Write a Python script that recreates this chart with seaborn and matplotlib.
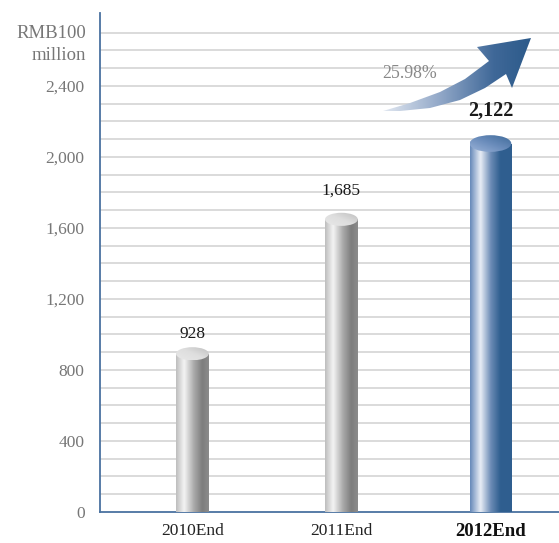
import numpy as np
import pandas as pd
import matplotlib
matplotlib.use("Agg")
import matplotlib.pyplot as plt
import seaborn as sns
from matplotlib.colors import LinearSegmentedColormap
from matplotlib.patches import Ellipse, Polygon

# ---- data ----
categories = ["2010End", "2011End", "2012End"]
values = [928, 1685, 2122]
value_labels = ["928", "1,685", "2,122"]
growth_label = "25.98%"
yticks = [0, 400, 800, 1200, 1600, 2000, 2400]
ytick_labels = ["0", "400", "800", "1,200", "1,600", "2,000", "2,400"]
unit_label = ["RMB100", "million"]

# ---- style ----
bar_widths = [0.22, 0.22, 0.28]
label_offsets_px = [5, 14, 15]
highlight = [False, False, True]
FONT = "Liberation Serif"

sns.set_theme(style="white")
plt.rcParams["font.family"] = [FONT, "DejaVu Serif"]

W, H = 559, 543
fig = plt.figure(figsize=(W / 100, H / 100), dpi=100)
ax = fig.add_axes([100 / W, (H - 512) / H, (W - 100) / W, (512 - 13) / H])

df = pd.DataFrame({"cat": categories, "val": values})
sns.barplot(data=df, x="cat", y="val", ax=ax, width=0.25, color="#aaaaaa",
            saturation=1, edgecolor="none")

XL = (-0.62, 2.46)
YL = (0, 2810)
ax.set_xlim(*XL)
ax.set_ylim(*YL)

px_per_unit = (512 - 13) / (YL[1] - YL[0])
px_per_cat = (W - 100) / (XL[1] - XL[0])

grey_body = LinearSegmentedColormap.from_list("gb", [
    (0.0, "#bdbdbd"), (0.25, "#f4f4f4"), (0.55, "#a9a9a9"), (0.8, "#7d7d7d"), (1.0, "#8c8c8c")])
blue_body = LinearSegmentedColormap.from_list("bb", [
    (0.0, "#6588b8"), (0.25, "#e9eef6"), (0.5, "#6b8bb5"), (0.72, "#305f90"), (1.0, "#2f5e8f")])
grey_top = LinearSegmentedColormap.from_list("gt", [
    (0.0, "#e8e8e8"), (0.5, "#dedede"), (1.0, "#bdbdbd")])
blue_top = LinearSegmentedColormap.from_list("bt", [
    (0.0, "#9bb3d8"), (0.5, "#6a8cbb"), (1.0, "#3e6a99")])

grad = np.linspace(0, 1, 256).reshape(1, -1)
gradv = np.linspace(0, 1, 64).reshape(-1, 1) * 0.5 + grad * 0.5

for i, p in enumerate(ax.patches):
    cx = p.get_x() + p.get_width() / 2
    w = bar_widths[i]
    h_px = 0.4 * w * px_per_cat
    eh = h_px / px_per_unit
    top = values[i] - eh / 2
    p.set_x(cx - w / 2)
    p.set_width(w)
    p.set_height(top)
    p.set_facecolor("none")
    cmap_b = blue_body if highlight[i] else grey_body
    cmap_t = blue_top if highlight[i] else grey_top
    im = ax.imshow(grad, cmap=cmap_b, extent=[cx - w / 2, cx + w / 2, 0, top],
                   aspect="auto", zorder=3, interpolation="bicubic")
    im.set_clip_path(p)
    el = Ellipse((cx, top), w, eh, facecolor="none", edgecolor="none", zorder=4)
    ax.add_patch(el)
    im2 = ax.imshow(gradv, cmap=cmap_t, extent=[cx - w / 2, cx + w / 2, top - eh / 2, top + eh / 2],
                    aspect="auto", zorder=4, interpolation="bicubic", origin="lower")
    im2.set_clip_path(el)
    ax.annotate(value_labels[i], (cx, values[i]), xytext=(0, label_offsets_px[i] * 0.72),
                textcoords="offset points", ha="center", va="bottom",
                fontsize=14.5 if highlight[i] else 12.5,
                fontweight="bold" if highlight[i] else "normal",
                color="#1a1a1a", zorder=5)

ax.set_xlim(*XL)
ax.set_ylim(*YL)

# grid
for yv in range(100, 2800, 100):
    ax.axhline(yv, color="#dadada", lw=1.4, zorder=0)

ax.set_yticks(yticks)
ax.set_yticklabels(ytick_labels)
ax.set_xlabel("")
ax.set_ylabel("")
ax.tick_params(axis="y", length=0, pad=11, labelsize=12.5, labelcolor="#777777")
ax.tick_params(axis="x", length=0, pad=8, labelsize=12.5, labelcolor="#222222")
for lab, hl in zip(ax.get_xticklabels(), highlight):
    if hl:
        lab.set_fontweight("bold")
        lab.set_color("#111111")
        lab.set_fontsize(13.5)

for s in ["top", "right"]:
    ax.spines[s].set_visible(False)
for s in ["left", "bottom"]:
    ax.spines[s].set_color("#4a72a0")
    ax.spines[s].set_linewidth(1.3)
ax.set_facecolor("white")

# overlay in pixel coords for annotations
ov = fig.add_axes([0, 0, 1, 1], zorder=10)
ov.set_xlim(0, W)
ov.set_ylim(H, 0)
ov.axis("off")
ov.patch.set_alpha(0)

ov.text(86, 33, unit_label[0], ha="right", va="center", fontsize=13.5, color="#777777")
ov.text(86, 56, unit_label[1], ha="right", va="center", fontsize=13.5, color="#777777")

arrow_pts = [(383, 111), (410, 103), (440, 92), (465, 79), (489, 61), (477, 47),
             (531, 38), (512, 88), (506, 74), (485, 88), (460, 100), (430, 108), (400, 111)]
arr = Polygon(arrow_pts, closed=True, facecolor="none", edgecolor="none")
ov.add_patch(arr)
arrow_cmap = LinearSegmentedColormap.from_list("ar", [
    (0.0, "#e2e8f1"), (0.4, "#8ea5c6"), (0.75, "#3f6898"), (1.0, "#2c5a8a")])
aim = ov.imshow(grad, cmap=arrow_cmap, extent=[383, 531, 111, 38], aspect="auto",
                interpolation="bicubic")
aim.set_clip_path(arr)
ov.set_xlim(0, W)
ov.set_ylim(H, 0)

ov.text(410, 73, growth_label, ha="center", va="center", fontsize=12.8, color="#888888")

fig.savefig("out.png", dpi=100)
